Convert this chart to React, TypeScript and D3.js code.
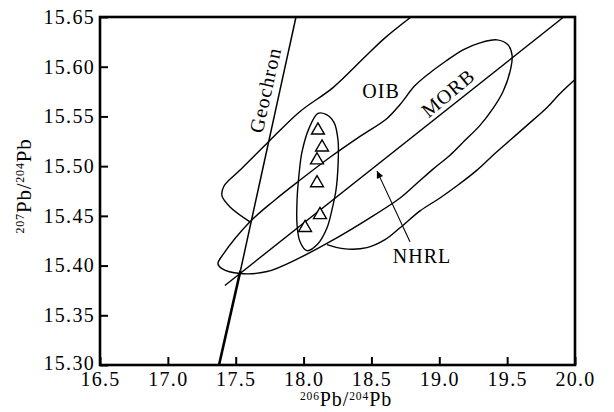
import React, { useEffect, useRef } from 'react'
import * as d3 from 'd3'

type Pt = [number, number]

const xTicks = [16.5, 17.0, 17.5, 18.0, 18.5, 19.0, 19.5, 20.0]
const yTicks = [15.30, 15.35, 15.40, 15.45, 15.50, 15.55, 15.60, 15.65]

// samples: 206Pb/204Pb and 207Pb/204Pb
const sample206 = [18.106, 18.136, 18.099, 18.099, 18.121, 18.011]
const sample207 = [15.536, 15.519, 15.506, 15.483, 15.451, 15.438]

// reference lines
const geochronLower: Pt[] = [[17.377, 15.30], [17.535, 15.395]]
const geochronUpper: Pt[] = [[17.535, 15.395], [17.944, 15.65]]
const nhrl: Pt[] = [[17.42, 15.38], [19.917, 15.65]]

// OIB field, upper boundary (runs into MORB field)
const oibUpper: Pt[] = [
  [18.792, 15.650], [18.600, 15.629], [18.453, 15.610], [18.217, 15.579],
  [17.974, 15.555], [17.731, 15.523], [17.532, 15.496], [17.414, 15.480],
  [17.399, 15.470], [17.458, 15.459], [17.605, 15.444]
]

// OIB field, lower boundary (from right edge into MORB field)
const oibLower: Pt[] = [
  [20.0, 15.587], [19.890, 15.573], [19.794, 15.559], [19.646, 15.541],
  [19.521, 15.526], [19.396, 15.511], [19.278, 15.496], [19.138, 15.481],
  [19.005, 15.468], [18.858, 15.455], [18.711, 15.438], [18.600, 15.426],
  [18.467, 15.418], [18.291, 15.417], [18.173, 15.421]
]

// MORB field outline
const morbField: Pt[] = [
  [17.369, 15.402], [17.406, 15.411], [17.605, 15.444], [17.789, 15.466],
  [17.974, 15.486], [18.195, 15.509], [18.416, 15.530], [18.615, 15.548],
  [18.711, 15.562], [18.821, 15.581], [18.932, 15.594], [19.042, 15.605],
  [19.175, 15.617], [19.300, 15.624], [19.425, 15.627], [19.506, 15.622],
  [19.536, 15.612], [19.528, 15.599], [19.470, 15.575], [19.396, 15.558],
  [19.300, 15.541], [19.175, 15.524], [19.079, 15.511], [18.954, 15.497],
  [18.821, 15.481], [18.711, 15.468], [18.489, 15.448], [18.195, 15.424],
  [17.974, 15.408], [17.731, 15.394], [17.532, 15.392], [17.399, 15.397]
]

// envelope around the samples
const sampleField: Pt[] = [
  [18.106, 15.553], [18.165, 15.552], [18.224, 15.544], [18.254, 15.526],
  [18.254, 15.501], [18.239, 15.476], [18.209, 15.456], [18.173, 15.438],
  [18.106, 15.422], [18.025, 15.415], [17.974, 15.424], [17.952, 15.441],
  [17.952, 15.466], [17.966, 15.491], [17.988, 15.514], [18.040, 15.538]
]

const arrow: Pt[] = [[18.784, 15.424], [18.541, 15.495]]

const labels = [
  { text: 'OIB', x: 18.571, y: 15.5685, angle: 0 },
  { text: 'NHRL', x: 18.873, y: 15.4026, angle: 0 },
  { text: 'MORB', x: 19.064, y: 15.5736, angle: -40 },
  { text: 'Geochron', x: 17.716, y: 15.5766, angle: -77.5 }
]

const FONT = "'Liberation Serif', 'DejaVu Serif', serif"

export default function App() {
  const ref = useRef<SVGSVGElement>(null)

  useEffect(() => {
    const W = 614, H = 412
    const margin = { top: 17, right: 39, bottom: 47, left: 100 }
    const svg = d3.select(ref.current)
    svg.selectAll('*').remove()

    const x = d3.scaleLinear().domain([16.5, 20]).range([margin.left, W - margin.right])
    const y = d3.scaleLinear().domain([15.30, 15.65]).range([H - margin.bottom, margin.top])

    svg.append('defs').append('clipPath').attr('id', 'plot-clip')
      .append('rect')
      .attr('x', x(16.5)).attr('y', y(15.65))
      .attr('width', x(20) - x(16.5)).attr('height', y(15.30) - y(15.65))

    svg.select('defs').append('marker')
      .attr('id', 'arrowhead')
      .attr('viewBox', '0 0 10 10')
      .attr('refX', 10).attr('refY', 5)
      .attr('markerWidth', 12).attr('markerHeight', 7)
      .attr('markerUnits', 'userSpaceOnUse')
      .attr('orient', 'auto')
      .append('path')
      .attr('d', 'M0,0 L10,5 L0,10 Z')
      .attr('fill', '#000')

    const plot = svg.append('g').attr('clip-path', 'url(#plot-clip)')

    const straight = d3.line<Pt>().x(d => x(d[0])).y(d => y(d[1]))
    const smooth = d3.line<Pt>().x(d => x(d[0])).y(d => y(d[1])).curve(d3.curveCatmullRom.alpha(0.5))
    const closed = d3.line<Pt>().x(d => x(d[0])).y(d => y(d[1])).curve(d3.curveCatmullRomClosed.alpha(0.5))

    plot.append('path').datum(oibUpper).attr('d', smooth)
      .attr('fill', 'none').attr('stroke', '#000').attr('stroke-width', 1.4)
    plot.append('path').datum(oibLower).attr('d', smooth)
      .attr('fill', 'none').attr('stroke', '#000').attr('stroke-width', 1.4)
    plot.append('path').datum(morbField).attr('d', closed)
      .attr('fill', 'none').attr('stroke', '#000').attr('stroke-width', 1.4)
    plot.append('path').datum(sampleField).attr('d', closed)
      .attr('fill', 'none').attr('stroke', '#000').attr('stroke-width', 1.4)

    plot.append('path').datum(nhrl).attr('d', straight)
      .attr('fill', 'none').attr('stroke', '#000').attr('stroke-width', 1.4)
    plot.append('path').datum(geochronLower).attr('d', straight)
      .attr('fill', 'none').attr('stroke', '#000').attr('stroke-width', 2.6)
    plot.append('path').datum(geochronUpper).attr('d', straight)
      .attr('fill', 'none').attr('stroke', '#000').attr('stroke-width', 1.5)

    svg.append('path').datum(arrow).attr('d', straight)
      .attr('fill', 'none').attr('stroke', '#000').attr('stroke-width', 1.1)
      .attr('marker-end', 'url(#arrowhead)')

    const tri = d3.symbol().type(d3.symbolTriangle).size(72)
    svg.append('g').selectAll('path')
      .data(sample206.map((v, i) => [v, sample207[i]] as Pt))
      .enter()
      .append('path')
      .attr('d', tri)
      .attr('transform', d => `translate(${x(d[0])},${y(d[1])})`)
      .attr('fill', '#fff')
      .attr('stroke', '#000')
      .attr('stroke-width', 1.4)

    svg.append('g').selectAll('text')
      .data(labels)
      .enter()
      .append('text')
      .attr('transform', d => `translate(${x(d.x)},${y(d.y)}) rotate(${d.angle})`)
      .attr('text-anchor', 'middle')
      .attr('dy', d => d.angle === 0 ? 0 : '0.35em')
      .attr('font-family', FONT)
      .attr('font-size', 20)
      .attr('letter-spacing', 1)
      .text(d => d.text)

    // axes
    const xAxis = d3.axisBottom(x).tickValues(xTicks).tickFormat(d3.format('.1f'))
      .tickSizeInner(-8).tickSizeOuter(0).tickPadding(7)
    const yAxis = d3.axisLeft(y).tickValues(yTicks).tickFormat(d3.format('.2f'))
      .tickSizeInner(-8).tickSizeOuter(0).tickPadding(5)

    const gx = svg.append('g').attr('transform', `translate(0,${y(15.30)})`).call(xAxis)
    const gy = svg.append('g').attr('transform', `translate(${x(16.5)},0)`).call(yAxis)

    for (const g of [gx, gy]) {
      g.select('.domain').remove()
      g.attr('font-family', FONT).attr('font-size', 20)
      g.selectAll('line').attr('stroke', '#000').attr('stroke-width', 2)
      g.selectAll('text').attr('fill', '#000').attr('letter-spacing', 1.3)
    }
    // lowest y label sits right above the first x label
    gy.selectAll<SVGTextElement, number>('text').filter(d => d === yTicks[0]).attr('dy', '0.2em')

    svg.append('rect')
      .attr('x', x(16.5)).attr('y', y(15.65))
      .attr('width', x(20) - x(16.5)).attr('height', y(15.30) - y(15.65))
      .attr('fill', 'none').attr('stroke', '#000').attr('stroke-width', 2.6)

    // axis titles
    const xt = svg.append('text')
      .attr('x', 346).attr('y', 406)
      .attr('text-anchor', 'middle')
      .attr('font-family', FONT).attr('font-size', 20).attr('letter-spacing', 0.9)
    xt.append('tspan').attr('font-size', 11.5).attr('dy', -6).text('206')
    xt.append('tspan').attr('dy', 6).text('Pb/')
    xt.append('tspan').attr('font-size', 11.5).attr('dy', -6).text('204')
    xt.append('tspan').attr('dy', 6).text('Pb')

    const yt = svg.append('text')
      .attr('transform', 'translate(31,186) rotate(-90)')
      .attr('text-anchor', 'middle')
      .attr('font-family', FONT).attr('font-size', 21).attr('letter-spacing', 0.8)
    yt.append('tspan').attr('font-size', 12).attr('dy', -7).text('207')
    yt.append('tspan').attr('dy', 7).text('Pb/')
    yt.append('tspan').attr('font-size', 12).attr('dy', -7).text('204')
    yt.append('tspan').attr('dy', 7).text('Pb')
  }, [])

  return (
    <svg
      ref={ref}
      width={614}
      height={412}
      style={{ position: 'absolute', left: 0, top: 0, background: '#fff' }}
    />
  )
}
